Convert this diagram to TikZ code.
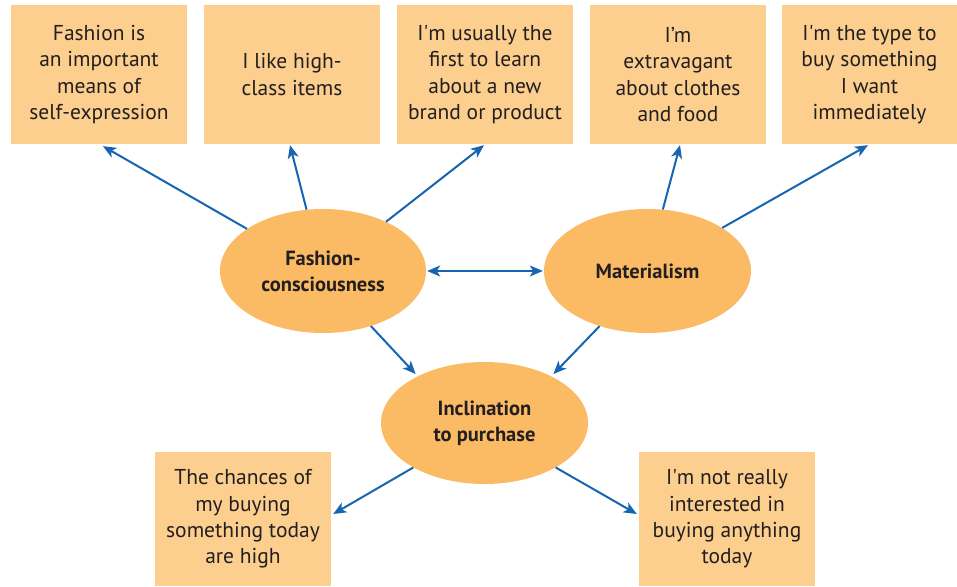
\documentclass[tikz,border=0pt]{standalone}
\usepackage{fontspec}
\setmainfont{PT Sans}
\usetikzlibrary{arrows.meta,shapes.geometric}
\definecolor{boxfill}{HTML}{FCCF8F}
\definecolor{ellfill}{HTML}{FBBA64}
\definecolor{arrblue}{HTML}{1565B0}
\definecolor{txt}{HTML}{231F20}
\newcommand{\sq}{\textquotesingle}
\begin{document}
\begin{tikzpicture}[x=1pt,y=-1pt,
  itembox/.style={rectangle,fill=boxfill,draw=none,minimum width=176pt,minimum height=139pt,
    inner sep=0pt,align=center,text=txt,font=\fontsize{21.5}{26.4}\selectfont},
  lowbox/.style={itembox,minimum height=134pt},
  concept/.style={ellipse,fill=ellfill,draw=none,minimum width=206pt,minimum height=124pt,
    inner sep=0pt,align=center,text=txt,font=\bfseries\fontsize{20.5}{26}\selectfont},
  link/.style={draw=arrblue,line width=2pt,-{Stealth[length=13pt,width=11pt,inset=3.5pt]}},
  dlink/.style={draw=arrblue,line width=2pt,{Stealth[length=13pt,width=11pt,inset=3.5pt]}-{Stealth[length=13pt,width=11pt,inset=3.5pt]}}]
\useasboundingbox (0,0) rectangle (957,586);
% top boxes
\node[itembox] (b1) at (99,74.5) {Fashion is\\an important\\means of\\self-expression};
\node[itembox] (b2) at (292,74.5) {I like high-\\class items};
\node[itembox] (b3) at (485,74.5) {I\sq m usually the\\first to learn\\about a new\\brand or product};
\node[itembox] (b4) at (678,74.5) {I’m\\extravagant\\about clothes\\and food};
\node[itembox,minimum width=175pt] (b5) at (869.5,74.5) {I\sq m the type to\\buy something\\I want\\immediately};
% ellipses
\node[concept] (fc) at (323,271) {Fashion-\\consciousness};
\node[concept,minimum width=207pt] (mat) at (647.5,271) {Materialism};
\node[concept,minimum width=207pt,minimum height=122pt] (inc) at (484.5,423) {Inclination\\to purchase};
% bottom boxes
\node[lowbox] (l1) at (243,519) {The chances of\\my buying\\something today\\are high};
\node[lowbox] (l2) at (727,519) {I\sq m not really\\interested in\\buying anything\\today};
% connectors
\draw[link] (fc.151) -- ([xshift=4pt,yshift=-2pt]b1.south);
\draw[link] (fc.105) -- ([xshift=-2pt,yshift=-1pt]b2.south);
\draw[link] (fc.38) -- ([xshift=-1pt,yshift=-1pt]b3.south);
\draw[link] (mat.76) -- ([xshift=2pt,yshift=-1pt]b4.south);
\draw[link] (mat.30) -- ([xshift=-1.5pt,yshift=-1pt]b5.south);
\draw[dlink] ([xshift=1pt]fc.east) -- ([xshift=-1pt]mat.west);
\draw[link,shorten >=3pt] (fc.-49.5) -- (inc.145);
\draw[link,shorten >=3pt] (mat.229.7) -- (inc.35);
\draw[link] (inc.212.7) -- ([xshift=2pt,yshift=5pt]l1.east);
\draw[link] (inc.-32.5) -- ([xshift=-2pt,yshift=5pt]l2.west);
\end{tikzpicture}
\end{document}
